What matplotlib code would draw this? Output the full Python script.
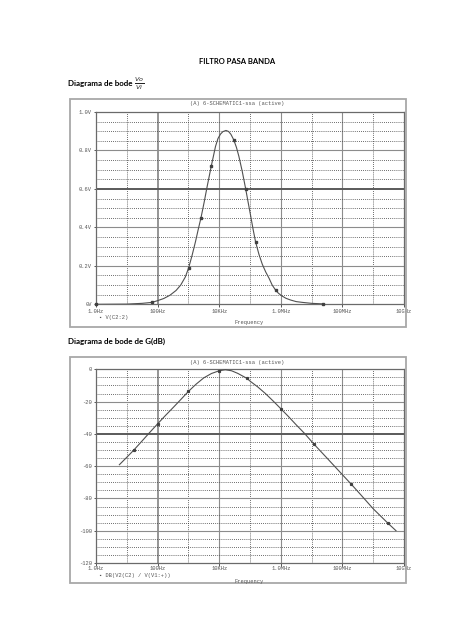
import numpy as np
import matplotlib
matplotlib.use("Agg")
import matplotlib.pyplot as plt
from matplotlib.patches import Rectangle

# ---- data ----
# top plot: V(C2:2) (V) vs frequency (Hz)
vo_freq = [1.0, 10, 31.6, 66, 100, 158, 251, 398, 562, 794, 1020, 1320, 1700,
           2090, 2570, 3240, 4070, 5500, 7590, 9120, 11000, 13200, 16600,
           20000, 24000, 29500, 36300, 43600, 56200, 72400, 87100, 105000,
           126000, 151000, 195000, 251000, 324000, 417000, 525000, 676000,
           832000, 1.05e6, 1.48e6, 2.1e6, 3.16e6, 5e6, 1e7, 2.4e7]
vo_val = [0.000, 0.001, 0.005, 0.010, 0.019, 0.030, 0.047, 0.072, 0.100, 0.142,
          0.190, 0.255, 0.326, 0.390, 0.451, 0.530, 0.613, 0.717, 0.821, 0.862,
          0.885, 0.898, 0.904, 0.899, 0.884, 0.856, 0.816, 0.769, 0.690, 0.600,
          0.530, 0.460, 0.390, 0.326, 0.260, 0.208, 0.168, 0.135, 0.100, 0.074,
          0.058, 0.045, 0.031, 0.022, 0.014, 0.010, 0.005, 0.002]
vo_mark_freq = [1.0, 66, 1020, 2570, 5500, 29500, 72400, 151000, 676000, 2.4e7]
vo_mark_val = [0.0, 0.010, 0.190, 0.451, 0.717, 0.856, 0.600, 0.326, 0.074, 0.002]

# bottom plot: DB(V2(C2)/V(V1:+)) (dB) vs frequency (Hz)
db_freq = [5.75, 10, 16.6, 31, 56.2, 100, 178, 331, 562, 1000, 1780, 3160,
           5620, 10000, 15800, 25100, 39800, 79400, 100000, 178000, 316000,
           562000, 1e6, 1.78e6, 3.16e6, 5.75e6, 1.2e7, 3.16e7, 1e8, 1.9e8,
           3.98e8, 1e9, 2.95e9, 5.5e9]
db_val = [-59.1, -54.5, -50.2, -44.5, -39.0, -33.8, -28.7, -23.4, -18.8, -13.7,
          -9.2, -5.3, -2.6, -0.9, -0.3, -0.9, -2.5, -5.6, -7.3, -10.9, -15.0,
          -19.6, -24.4, -29.3, -34.4, -39.5, -46.4, -55.0, -65.3, -71.0, -77.8,
          -86.4, -95.2, -100.0]
db_mark_freq = [16.6, 100, 1000, 10000, 79400, 1e6, 1.2e7, 1.9e8, 2.95e9]
db_mark_val = [-50.2, -33.8, -13.7, -0.9, -5.6, -24.4, -46.4, -71.0, -95.2]

x_ticks = [1, 1e2, 1e4, 1e6, 1e8, 1e10]
x_labels = ["1.0Hz", "100Hz", "10KHz", "1.0MHz", "100MHz", "10GHz"]
vo_ticks = [0, 0.2, 0.4, 0.6, 0.8, 1.0]
vo_labels = ["0V", "0.2V", "0.4V", "0.6V", "0.8V", "1.0V"]
db_ticks = [0, -20, -40, -60, -80, -100, -120]
db_labels = ["0", "-20", "-40", "-60", "-80", "-100", "-120"]

W, H = 474, 632
def fx(x):
    return x / W
def fy(y):
    return 1 - y / H

fig = plt.figure(figsize=(W / 100, H / 100), dpi=100)
fig.patch.set_facecolor("white")

head = ["Lato", "DejaVu Sans"]
mono = ["Liberation Mono", "DejaVu Sans Mono"]
fig.text(fx(237), fy(61), "FILTRO PASA BANDA", family=head, weight="bold",
         fontsize=5.5, ha="center", va="center")
fig.text(fx(67.5), fy(83.5), "Diagrama de bode", family=head, weight="bold",
         fontsize=5.8, ha="left", va="center")
fig.text(fx(134.5), fy(83.5), r"$\frac{Vo}{Vi}$", fontsize=6.5,
         ha="left", va="center", color="#222222")
fig.text(fx(67.5), fy(341.5), "Diagrama de bode de G(dB)", family=head,
         weight="bold", fontsize=5.8, ha="left", va="center")

grid_solid = "#8c8c8c"
grid_dot = "#3c3c3c"
trace = "#505050"


def pspice_axes(box, frame, yticks, ylabels, ylim, minor_step, thick_y, legend,
                leg_y, title_y, freq_y, xpad):
    left, top, right, bottom = box
    fig.patches.append(Rectangle((fx(frame[0]), fy(frame[3])),
                                 fx(frame[2]) - fx(frame[0]),
                                 fy(frame[1]) - fy(frame[3]),
                                 transform=fig.transFigure, fill=False,
                                 edgecolor="#a8a8a8", linewidth=1.3))
    ax = fig.add_axes([fx(left), fy(bottom), fx(right) - fx(left),
                       fy(top) - fy(bottom)])
    ax.set_xscale("log")
    ax.set_xlim(1, 1e10)
    ax.set_ylim(*ylim)
    ax.set_facecolor("white")
    # grid: solid on every second decade / major step, dotted in between
    for d in range(1, 10):
        if d % 2 == 0:
            ax.axvline(10.0 ** d, color=grid_solid,
                       lw=1.3 if d == 2 else 0.8, zorder=1)
        else:
            ax.axvline(10.0 ** d, color=grid_dot, lw=0.6, ls=(0, (1, 1.5)),
                       zorder=1)
    lo, hi = min(ylim), max(ylim)
    for v in np.arange(lo, hi + minor_step / 2, minor_step):
        if any(abs(v - t) < 1e-9 for t in yticks):
            if abs(v - lo) < 1e-9 or abs(v - hi) < 1e-9:
                continue
            ax.axhline(v, color=grid_solid if abs(v - thick_y) > 1e-9 else "#5a5a5a",
                       lw=0.8 if abs(v - thick_y) > 1e-9 else 1.4, zorder=1)
        else:
            ax.axhline(v, color=grid_dot, lw=0.6, ls=(0, (1, 1.5)), zorder=1)
    for s in ax.spines.values():
        s.set_color("#6a6a6a")
        s.set_linewidth(0.9)
    ax.set_xticks(x_ticks)
    ax.set_xticklabels(x_labels)
    ax.minorticks_off()
    ax.set_yticks(yticks)
    ax.set_yticklabels(ylabels)
    ax.tick_params(axis="both", length=1.8, width=0.7, color="#555555",
                   labelsize=3.9, labelcolor="#555555", pad=1.2)
    ax.tick_params(axis="x", pad=xpad)
    for lab in ax.get_xticklabels() + ax.get_yticklabels():
        lab.set_family(mono)
    fig.text(fx(237), fy(title_y), "(A) 6-SCHEMATIC1-ssa (active)",
             family=mono, fontsize=3.9, color="#555555", ha="center",
             va="center")
    fig.text(fx(99), fy(leg_y), "\u25aa " + legend, family=mono, fontsize=3.9,
             color="#555555", ha="left", va="center")
    fig.text(fx(249), fy(freq_y), "Frequency", family=mono, fontsize=3.9,
             color="#555555", ha="center", va="center")
    return ax


ax1 = pspice_axes((96, 112, 404, 304.3), (70, 99, 406, 327), vo_ticks,
                  vo_labels, (0, 1.0), 0.05, 0.6, "V(C2:2)", 317, 104,
                  322.5, 1.5)
ax1.plot(vo_freq, vo_val, color=trace, lw=0.8, zorder=3)
ax1.plot(vo_mark_freq, vo_mark_val, ls="none", marker="s", ms=1.7,
         mfc="#404040", mec="#404040", zorder=4, clip_on=False)

ax2 = pspice_axes((96, 369.3, 404, 563), (70, 357, 406, 583), db_ticks,
                  db_labels, (-120, 0), 5, -40, "DB(V2(C2) / V(V1:+))", 575,
                  362, 581.5, 0.4)
ax2.plot(db_freq, db_val, color=trace, lw=0.8, zorder=3)
ax2.plot(db_mark_freq, db_mark_val, ls="none", marker="s", ms=1.3,
         mfc="#404040", mec="#404040", zorder=4)

fig.savefig("out.png", dpi=100, facecolor="white")
